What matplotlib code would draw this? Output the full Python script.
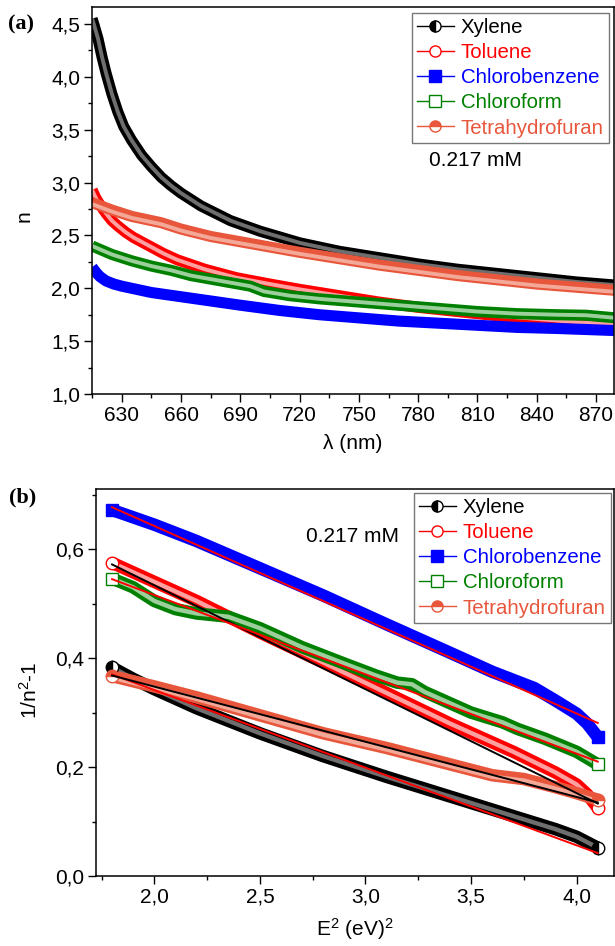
import numpy as np
import matplotlib
matplotlib.use("Agg")
import matplotlib.pyplot as plt
import matplotlib.transforms as mtransforms
from matplotlib.lines import Line2D
from matplotlib.ticker import MultipleLocator, FuncFormatter

plt.rcParams["font.family"] = ["Liberation Sans", "DejaVu Sans"]
plt.rcParams["mathtext.fontset"] = "custom"
plt.rcParams["mathtext.rm"] = "Liberation Sans"
plt.rcParams["mathtext.it"] = "Liberation Sans:italic"
FS = 15

# =========================
# Data, panel (a): n vs wavelength (nm)
# =========================
names = ["Xylene", "Toluene", "Chlorobenzene", "Chloroform", "Tetrahydrofuran"]
colors = ["black", "#ff0000", "#0000ff", "#008000", "#e8563c"]

wl_xyl = [615, 616, 618, 620, 622, 625, 628, 631, 635, 640, 645, 650, 655, 660, 670, 685, 700, 720, 740, 760, 780, 800, 820, 840, 860, 880]
n_xyl = [4.55, 4.49, 4.36, 4.19, 4.04, 3.84, 3.67, 3.53, 3.40, 3.26, 3.15, 3.05, 2.97, 2.90, 2.78, 2.64, 2.54, 2.43, 2.35, 2.29, 2.23, 2.18, 2.14, 2.10, 2.06, 2.03]

wl_tol = [615, 617, 619, 622, 625, 628, 632, 636, 640, 645, 651, 658, 672, 688, 705, 720, 740, 760, 780, 800, 820, 840, 860, 880]
n_tol = [2.93, 2.85, 2.79, 2.71, 2.64, 2.59, 2.53, 2.48, 2.44, 2.39, 2.33, 2.27, 2.18, 2.10, 2.04, 1.99, 1.93, 1.87, 1.82, 1.78, 1.74, 1.71, 1.68, 1.66]

wl_cb = [615, 617, 619, 622, 626, 630, 645, 660, 675, 690, 710, 730, 750, 770, 790, 810, 830, 850, 880]
n_cb = [2.20, 2.15, 2.11, 2.07, 2.04, 2.02, 1.96, 1.92, 1.88, 1.84, 1.79, 1.75, 1.72, 1.69, 1.67, 1.65, 1.63, 1.62, 1.60]

wl_cf = [615, 625, 635, 645, 655, 665, 680, 695, 702, 715, 730, 750, 770, 790, 810, 830, 850, 865, 880]
n_cf = [2.40, 2.32, 2.26, 2.21, 2.17, 2.12, 2.07, 2.02, 1.97, 1.93, 1.90, 1.87, 1.84, 1.81, 1.78, 1.76, 1.75, 1.745, 1.72]

wl_thf = [615, 625, 635, 645, 650, 660, 675, 690, 705, 720, 740, 760, 780, 800, 820, 840, 860, 880]
n_thf = [2.81, 2.74, 2.68, 2.64, 2.62, 2.56, 2.49, 2.44, 2.39, 2.34, 2.28, 2.22, 2.17, 2.12, 2.08, 2.04, 2.01, 1.98]

# =========================
# Data, panel (b): 1/(n^2-1) vs E^2 (eV^2)
# =========================
e_xyl = [1.80, 1.90, 2.00, 2.20, 2.50, 2.80, 3.10, 3.40, 3.70, 3.90, 4.00, 4.10]
v_xyl = [0.383, 0.362, 0.343, 0.308, 0.262, 0.220, 0.182, 0.146, 0.110, 0.086, 0.072, 0.052]

e_tol = [1.80, 2.00, 2.20, 2.50, 2.80, 3.10, 3.40, 3.70, 3.90, 4.00, 4.05, 4.10]
v_tol = [0.575, 0.540, 0.505, 0.447, 0.392, 0.336, 0.280, 0.228, 0.190, 0.168, 0.150, 0.125]

e_cb = [1.80, 2.00, 2.20, 2.50, 2.80, 3.10, 3.40, 3.60, 3.80, 3.90, 4.00, 4.05, 4.10]
v_cb = [0.672, 0.645, 0.615, 0.565, 0.515, 0.462, 0.410, 0.375, 0.345, 0.322, 0.298, 0.280, 0.255]

e_cf = [1.80, 1.90, 2.00, 2.10, 2.20, 2.35, 2.50, 2.70, 2.90, 3.05, 3.15, 3.22, 3.28, 3.50, 3.65, 3.72, 3.85, 4.00, 4.10]
v_cf = [0.546, 0.530, 0.505, 0.490, 0.482, 0.476, 0.455, 0.420, 0.390, 0.368, 0.355, 0.352, 0.338, 0.300, 0.282, 0.270, 0.252, 0.228, 0.205]

e_thf = [1.80, 2.00, 2.20, 2.50, 2.80, 3.10, 3.40, 3.60, 3.75, 3.90, 4.00, 4.10]
v_thf = [0.367, 0.348, 0.328, 0.295, 0.262, 0.235, 0.205, 0.185, 0.178, 0.163, 0.152, 0.140]

# linear fits (end points)
fit_x = [1.80, 4.10]
fit_xyl = [0.370, 0.042]
fit_tol = [0.572, 0.133]
fit_cb = [0.677, 0.281]
fit_cf = [0.545, 0.210]
fit_thf = [0.368, 0.135]

# =========================
# Figure
# =========================
fig = plt.figure(figsize=(6.15, 9.46), dpi=100)
ax1 = fig.add_axes([0.1491, 0.5835, 0.8493, 0.4086])
ax2 = fig.add_axes([0.1556, 0.0740, 0.8428, 0.4088])

inner = ["#6e6e6e", "#ffa0a0", None, "#9ccf9c", "#f4a898"]
markers = [dict(marker="o", fillstyle="left", markerfacecoloralt="white"),
           dict(marker="o", markerfacecolor="white"),
           dict(marker="s"),
           dict(marker="s", markerfacecolor="white"),
           dict(marker="o", fillstyle="top", markerfacecoloralt="white")]


def band(ax, x, y, i, lw=8.0):
    ax.plot(x, y, color=colors[i], lw=lw, solid_capstyle="butt", solid_joinstyle="round", zorder=2 + i * 0.1)
    if inner[i]:
        off = mtransforms.offset_copy(ax.transData, fig=fig, y=-1.5 if i == 4 else 0, units="dots")
        ax.plot(x, y, color=inner[i], lw=lw * 0.35, solid_capstyle="butt", solid_joinstyle="round",
                transform=off, zorder=2.05 + i * 0.1)


series_a = [(wl_xyl, n_xyl), (wl_tol, n_tol), (wl_cb, n_cb), (wl_cf, n_cf), (wl_thf, n_thf)]
for i, (x, y) in enumerate(series_a):
    band(ax1, x, y, i)

series_b = [(e_xyl, v_xyl), (e_tol, v_tol), (e_cb, v_cb), (e_cf, v_cf), (e_thf, v_thf)]
for i, (x, y) in enumerate(series_b):
    band(ax2, x, y, i, lw=9.0)
    ax2.plot([x[0], x[-1]], [y[0], y[-1]], ls="none", color=colors[i], ms=9, mew=1, zorder=2.5, **markers[i])

fit_colors = ["#ff0000", "black", "#ff0000", "#ff0000", "black"]
for fy, fc in zip([fit_xyl, fit_tol, fit_cb, fit_cf, fit_thf], fit_colors):
    ax2.plot(fit_x, fy, color=fc, lw=1.4, zorder=4)

# =========================
# Axes styling
# =========================
comma = FuncFormatter(lambda v, p: f"{v:.1f}".replace(".", ","))

for ax in (ax1, ax2):
    for s in ax.spines.values():
        s.set_linewidth(1.1)
    ax.tick_params(which="major", direction="out", length=5.8, width=1.0, labelsize=FS, pad=2.5)
    ax.tick_params(which="minor", direction="out", length=3, width=1.0)
    ax.tick_params(top=False, right=False, which="both")

ax1.set_xlim(614.8, 879.1)
ax1.set_ylim(1.0, 4.656)
ax1.xaxis.set_major_locator(MultipleLocator(30))
ax1.xaxis.set_minor_locator(MultipleLocator(15))
ax1.yaxis.set_major_locator(MultipleLocator(0.5))
ax1.yaxis.set_minor_locator(MultipleLocator(0.25))
ax1.yaxis.set_major_formatter(comma)
ax1.set_xlabel("λ (nm)", fontsize=FS)
ax1.set_ylabel("n", fontsize=FS)
ax1.xaxis.set_label_coords(0.5, -0.104)
ax1.yaxis.set_label_coords(-0.112, 0.46)

ax2.set_xlim(1.7225, 4.177)
ax2.set_ylim(0.0, 0.71)
ax2.xaxis.set_major_locator(MultipleLocator(0.5))
ax2.xaxis.set_minor_locator(MultipleLocator(0.25))
ax2.yaxis.set_major_locator(MultipleLocator(0.2))
ax2.yaxis.set_minor_locator(MultipleLocator(0.1))
ax2.xaxis.set_major_formatter(comma)
ax2.yaxis.set_major_formatter(comma)
ax2.set_xlabel("E$^2$ (eV)$^2$", fontsize=FS)
ax2.set_ylabel("1/n$^2$-1", fontsize=FS)
ax2.xaxis.set_label_coords(0.5, -0.104)
ax2.yaxis.set_label_coords(-0.105, 0.48)

# legends
handles = [Line2D([], [], color=colors[i], lw=1.0, ms=8, mew=1, **markers[i]) for i in range(5)]
for ax, anchor in ((ax1, (0.9904, 0.9858)), (ax2, (0.9942, 0.9904))):
    leg = ax.legend(handles, names, loc="upper right", bbox_to_anchor=anchor, borderaxespad=0,
                    fontsize=14.7, frameon=True, fancybox=False, edgecolor="#555555",
                    handlelength=1.8, handletextpad=0.35, labelspacing=0.3, borderpad=0.25)
    leg.get_frame().set_linewidth(1.0)
    for t, c in zip(leg.get_texts(), colors):
        t.set_color(c)

ax1.text(0.7339, 0.6054, "0.217 mM", transform=ax1.transAxes, ha="center", va="center", fontsize=FS)
ax2.text(0.4945, 0.8766, "0.217 mM", transform=ax2.transAxes, ha="center", va="center", fontsize=FS)

fig.text(0.034, 0.9746, "(a)", ha="center", va="center", fontsize=16, fontweight="bold", family="Liberation Serif")
fig.text(0.036, 0.4736, "(b)", ha="center", va="center", fontsize=16, fontweight="bold", family="Liberation Serif")

fig.savefig("out.png", dpi=100)
